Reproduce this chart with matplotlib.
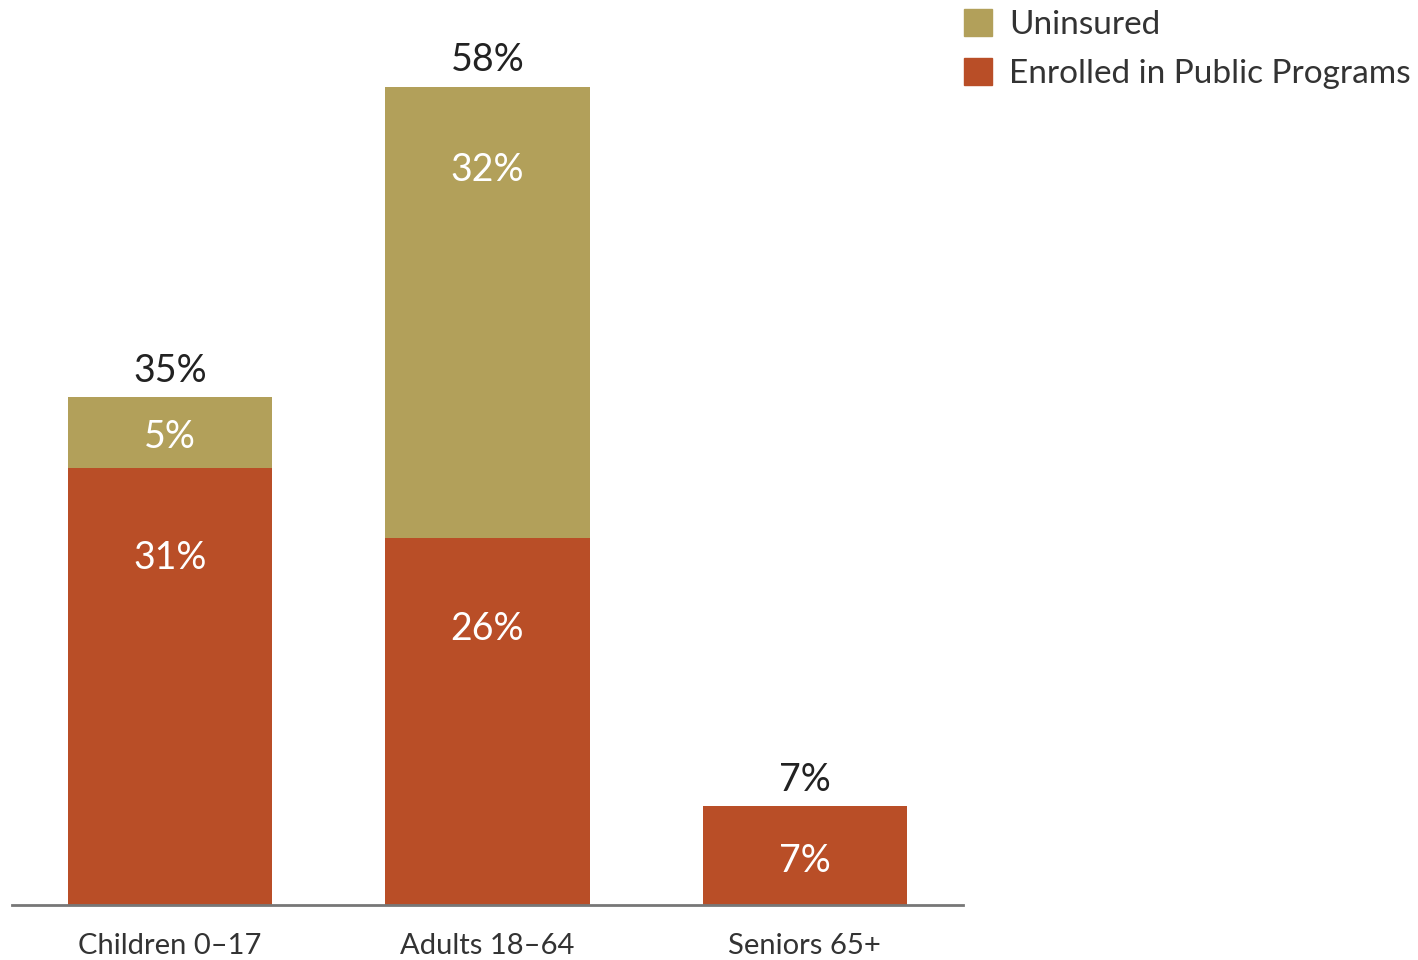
import matplotlib.pyplot as plt
from matplotlib.patches import Patch

plt.rcParams['font.family'] = ['Lato', 'DejaVu Sans']

groups = ['Children 0\u201317', 'Adults 18\u201364', 'Seniors 65+']
enrolled = [31, 26, 7]
uninsured = [5, 32, 0]
totals = [35, 58, 7]

c_enr = '#B94E27'
c_uni = '#B2A05A'

fig = plt.figure(figsize=(14.18, 9.6), dpi=100)
ax = fig.add_axes([12 / 1418, 55 / 960, 951 / 1418, 846 / 960])

x = range(len(groups))
w = 0.643
ax.bar(x, enrolled, width=w, color=c_enr)
ax.bar(x, uninsured, width=w, bottom=enrolled, color=c_uni)

for i in x:
    # segment labels sit near the top of each segment, centered if it is short
    e = enrolled[i]
    ye = e - 6.4 if e > 12 else e / 2 - 0.4
    ax.text(i, ye, f'{e}%', ha='center', va='center', color='white', fontsize=27)
    u = uninsured[i]
    if u > 0:
        yu = e + u - 5.9 if u > 12 else e + u / 2 - 0.3
        ax.text(i, yu, f'{u}%', ha='center', va='center', color='white', fontsize=27)
    ax.text(i, enrolled[i] + uninsured[i] + 1.9, f'{totals[i]}%', ha='center', va='center',
            color='#222222', fontsize=27)

ax.set_xlim(-0.498, 2.498)
ax.set_ylim(0, 60)
for s in ['top', 'right', 'left']:
    ax.spines[s].set_visible(False)
ax.spines['bottom'].set_color('#777777')
ax.spines['bottom'].set_linewidth(2)
ax.set_yticks([])
ax.set_xticks(list(x))
ax.set_xticklabels(groups, fontsize=21, color='#333333')
ax.tick_params(axis='x', length=0, pad=20)

handles = [Patch(color=c_uni, label='Uninsured'),
           Patch(color=c_enr, label='Enrolled in Public Programs')]
fig.legend(handles=handles, loc='upper left', bbox_to_anchor=(964 / 1418, 1 - 9 / 960),
           frameon=False, borderpad=0, borderaxespad=0,
           fontsize=24, handlelength=0.85, handleheight=0.85, handletextpad=0.5,
           labelspacing=0.55, labelcolor='#333333')

fig.savefig('out.png', dpi=100)
